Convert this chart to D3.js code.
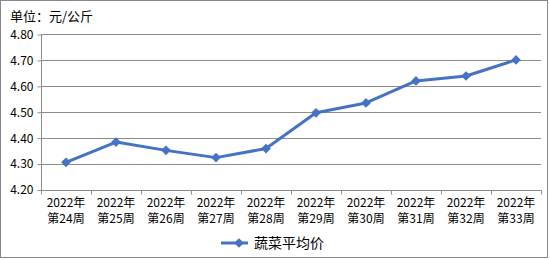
<!DOCTYPE html>
<head>
  <meta charset="utf-8">
  <script src="https://d3js.org/d3.v7.min.js"></script>
  <style>
    body { margin:0; background:#fff; }
    svg { display:block; }
    text { font-family: "Noto Sans CJK SC", sans-serif; fill:#000; }
  </style>
</head>
<body>
<script>
  // chart data
  var weeks = ["第24周", "第25周", "第26周", "第27周", "第28周", "第29周", "第30周", "第31周", "第32周", "第33周"];
  var years = ["2022年", "2022年", "2022年", "2022年", "2022年", "2022年", "2022年", "2022年", "2022年", "2022年"];
  var prices = [4.305, 4.383, 4.351, 4.323, 4.358, 4.496, 4.534, 4.619, 4.638, 4.700];
  var yTicks = [4.20, 4.30, 4.40, 4.50, 4.60, 4.70, 4.80];
  var seriesName = "蔬菜平均价";
  var unitLabel = "单位：元/公斤";

  var width = 550, height = 260;
  // plot area (note: "top" clashes with window.top)
  var plotLeft = 41, plotRight = 541, plotTop = 34, plotBottom = 189.5;

  var svg = d3.select("body").append("svg")
    .attr("width", width)
    .attr("height", height);

  // outer border
  svg.append("rect")
    .attr("x", 0.5).attr("y", 0.5)
    .attr("width", 547).attr("height", 257)
    .attr("fill", "#fff")
    .attr("stroke", "#888")
    .attr("stroke-width", 1);

  svg.append("text")
    .attr("x", 10).attr("y", 21)
    .style("font-size", "13px")
    .text(unitLabel);

  var x = d3.scaleBand().domain(d3.range(weeks.length)).range([plotLeft, plotRight]);
  var y = d3.scaleLinear().domain([4.2, 4.8]).range([plotBottom, plotTop]);

  // gridlines
  svg.selectAll(".grid")
    .data(yTicks.slice(1))
    .enter().append("line")
    .attr("class", "grid")
    .attr("x1", plotLeft).attr("x2", plotRight)
    .attr("y1", function(d) { return Math.round(y(d)) + 0.5; })
    .attr("y2", function(d) { return Math.round(y(d)) + 0.5; })
    .attr("stroke", "#8c8c8c");

  // y axis
  var yAxis = svg.append("g")
    .attr("transform", "translate(" + (plotLeft + 0.5) + ",0.5)")
    .call(d3.axisLeft(y).tickValues(yTicks).tickFormat(d3.format(".2f")).tickSizeOuter(0).tickSize(4));
  yAxis.select(".domain").remove();
  yAxis.append("line").attr("y1", plotTop).attr("y2", plotBottom).attr("stroke", "#8c8c8c");
  yAxis.selectAll("line").attr("stroke", "#8c8c8c");
  yAxis.selectAll("text").style("font-size", "12px").attr("x", -8).attr("fill", "#000");

  // x axis
  var xAxis = svg.append("g")
    .attr("transform", "translate(0.5," + (Math.round(y(4.2)) + 0.5) + ")");
  xAxis.append("line")
    .attr("x1", plotLeft).attr("x2", plotRight)
    .attr("stroke", "#8c8c8c");
  xAxis.selectAll(".tick")
    .data(d3.range(weeks.length + 1))
    .enter().append("line")
    .attr("x1", function(i) { return plotLeft + i * x.step(); })
    .attr("x2", function(i) { return plotLeft + i * x.step(); })
    .attr("y1", 0).attr("y2", 4)
    .attr("stroke", "#8c8c8c");

  var labels = svg.selectAll(".xlab")
    .data(weeks)
    .enter().append("text")
    .attr("class", "xlab")
    .attr("text-anchor", "middle")
    .style("font-size", "12px");
  labels.append("tspan")
    .attr("x", function(d, i) { return x(i) + x.bandwidth() / 2; })
    .attr("y", 207)
    .text(function(d, i) { return years[i]; });
  labels.append("tspan")
    .attr("x", function(d, i) { return x(i) + x.bandwidth() / 2; })
    .attr("y", 223)
    .text(function(d) { return d; });

  // line
  var line = d3.line()
    .x(function(d, i) { return x(i) + x.bandwidth() / 2; })
    .y(function(d) { return y(d); });

  svg.append("path")
    .datum(prices)
    .attr("d", line)
    .attr("fill", "none")
    .attr("stroke", "#4472C4")
    .attr("stroke-width", 3)
    .attr("stroke-linejoin", "round");

  var diamond = d3.symbol().type(d3.symbolDiamond2).size(60);
  svg.selectAll(".pt")
    .data(prices)
    .enter().append("path")
    .attr("class", "pt")
    .attr("d", diamond)
    .attr("transform", function(d, i) { return "translate(" + (x(i) + x.bandwidth() / 2) + "," + y(d) + ")"; })
    .attr("fill", "#4472C4");

  // legend
  var lg = svg.append("g").attr("transform", "translate(221,243)");
  lg.append("line")
    .attr("x1", 0).attr("x2", 27)
    .attr("stroke", "#4472C4").attr("stroke-width", 3);
  lg.append("path")
    .attr("d", diamond)
    .attr("transform", "translate(18,0)")
    .attr("fill", "#4472C4");
  lg.append("text")
    .attr("x", 33).attr("y", 5)
    .style("font-size", "14px")
    .text(seriesName);
</script>
</body>
